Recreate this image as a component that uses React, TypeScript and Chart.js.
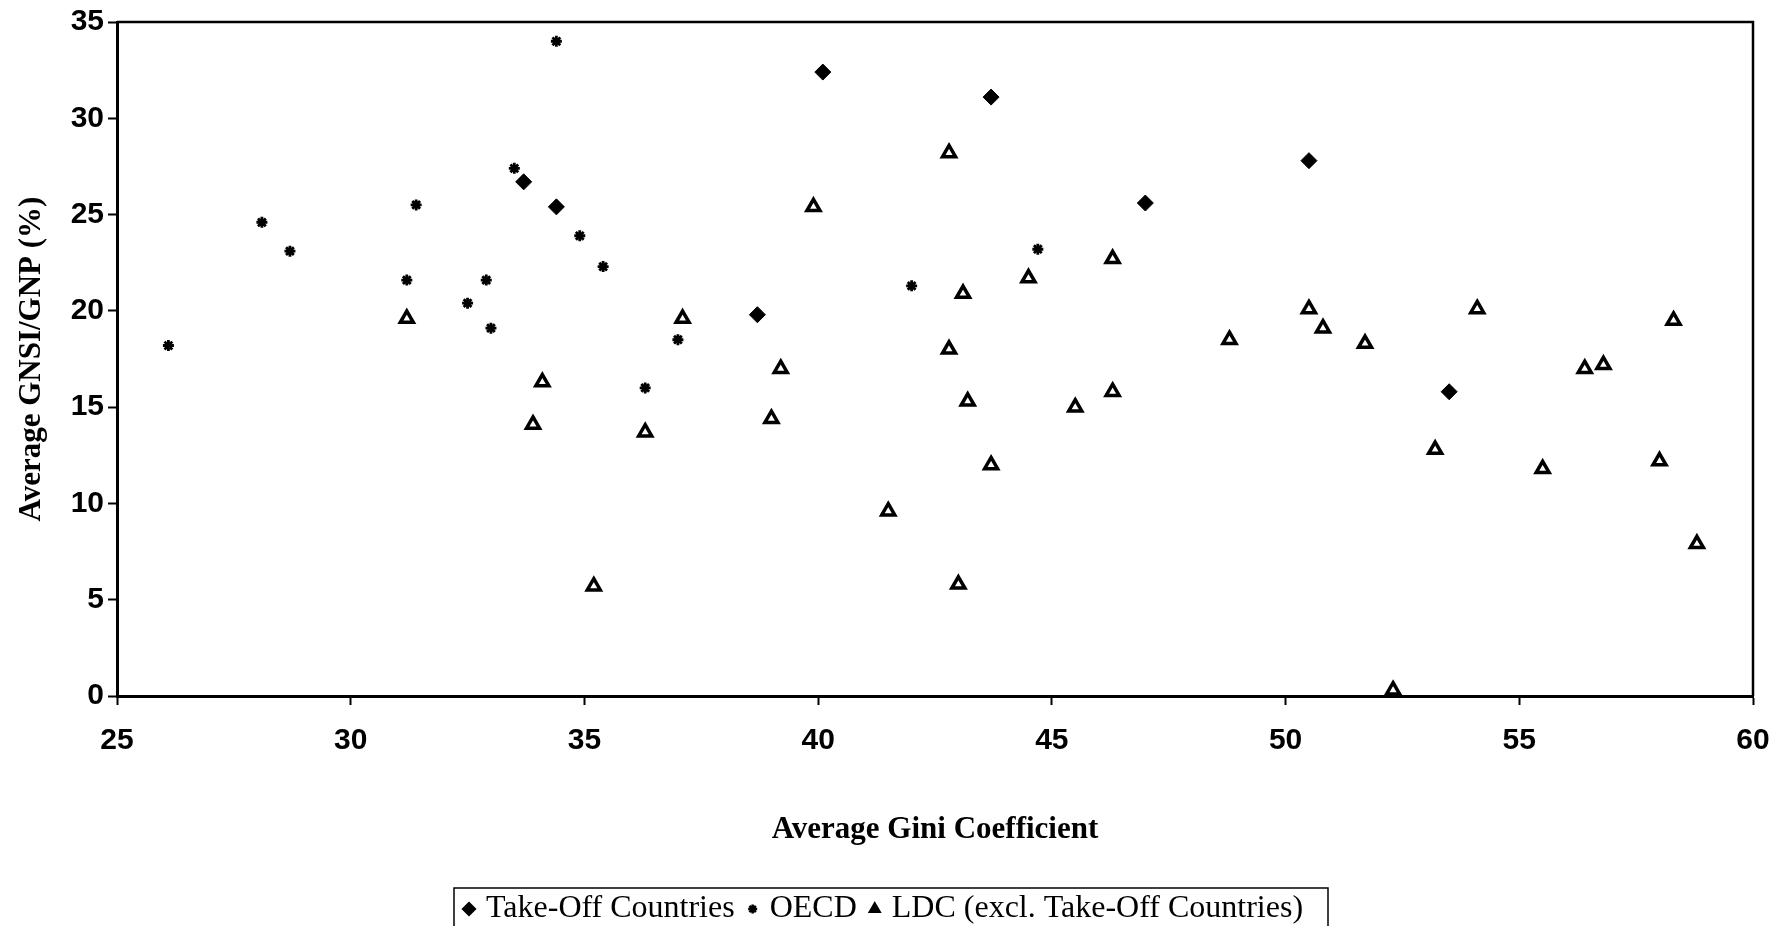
import React, { useEffect, useRef } from "react";
import { Chart, registerables } from "chart.js";
import { drawPoint } from "chart.js/helpers";

Chart.register(...registerables);

// ---- data ----
const seriesLabels = ["Take-Off Countries", "OECD", "LDC (excl. Take-Off Countries)"];
const xAxisTitle = "Average Gini Coefficient";
const yAxisTitle = "Average GNSI/GNP (%)";
const xMin = 25;
const xMax = 60;
const yMin = 0;
const yMax = 35;
const tickStep = 5;

const takeOffGini = [40.1, 43.7, 50.5, 33.7, 34.4, 47.0, 38.7, 53.5];
const takeOffGnsi = [32.4, 31.1, 27.8, 26.7, 25.4, 25.6, 19.8, 15.8];

const oecdGini = [26.1, 28.1, 28.7, 31.2, 31.4, 32.5, 32.9, 33.0, 33.5, 34.4, 34.9, 35.4, 36.3, 37.0, 42.0, 44.7];
const oecdGnsi = [18.2, 24.6, 23.1, 21.6, 25.5, 20.4, 21.6, 19.1, 27.4, 34.0, 23.9, 22.3, 16.0, 18.5, 21.3, 23.2];

const ldcGini = [
  31.2, 34.1, 33.9, 35.2, 36.3, 37.1, 39.2, 39.0, 39.9, 41.5, 42.8, 42.8, 43.1, 43.2, 43.7, 43.0, 44.5,
  45.5, 46.3, 46.3, 48.8, 50.5, 50.8, 51.7, 52.3, 53.2, 54.1, 55.5, 56.4, 56.8, 58.0, 58.3, 58.8,
];
const ldcGnsi = [
  19.6, 16.3, 14.1, 5.7, 13.7, 19.6, 17.0, 14.4, 25.4, 9.6, 28.2, 18.0, 20.9, 15.3, 12.0, 5.8, 21.7,
  15.0, 22.7, 15.8, 18.5, 20.1, 19.1, 18.3, 0.3, 12.8, 20.1, 11.8, 17.0, 17.2, 12.2, 19.5, 7.9,
];

const toPoints = (xs: number[], ys: number[]) => xs.map((x, i) => ({ x, y: ys[i] }));

const SANS = "'Liberation Sans', Arial, sans-serif";
const SERIF = "'Liberation Serif', 'Times New Roman', serif";

const framePlugin = {
  id: "frameBox",
  afterDatasetsDraw(chart: any) {
    const { ctx, chartArea: a } = chart;
    ctx.save();
    ctx.strokeStyle = "#000";
    ctx.lineWidth = 2.5;
    ctx.beginPath();
    ctx.moveTo(a.left, a.top);
    ctx.lineTo(a.right, a.top);
    ctx.lineTo(a.right, a.bottom);
    ctx.stroke();
    ctx.restore();
  },
};

const legendPlugin = {
  id: "boxedLegend",
  afterDraw(chart: any) {
    const ctx = chart.ctx;
    const boxLeft = 454;
    const boxRight = 1328;
    const boxTop = 888;
    const midY = 909;
    ctx.save();
    ctx.strokeStyle = "#000";
    ctx.lineWidth = 1.5;
    ctx.beginPath();
    ctx.moveTo(boxLeft, chart.height + 2);
    ctx.lineTo(boxLeft, boxTop);
    ctx.lineTo(boxRight, boxTop);
    ctx.lineTo(boxRight, chart.height + 2);
    ctx.stroke();

    ctx.font = `32px ${SERIF}`;
    ctx.textBaseline = "middle";
    ctx.textAlign = "left";
    let x = boxLeft + 15;
    chart.data.datasets.forEach((ds: any) => {
      ctx.fillStyle = ds.pointStyle === "triangle" ? "#000" : ds.backgroundColor;
      ctx.strokeStyle = ds.borderColor;
      ctx.lineWidth = ds.pointStyle === "star" ? 2.5 : 1.5;
      drawPoint(
        ctx,
        {
          pointStyle: ds.pointStyle,
          rotation: 0,
          radius: ds.pointStyle === "star" ? 4.5 : 6.5,
          borderWidth: ctx.lineWidth,
        } as any,
        x,
        midY
      );
      ctx.fillStyle = "#000";
      const tx = x + 17;
      ctx.fillText(ds.label, tx, midY);
      x = tx + ctx.measureText(ds.label).width + 18;
    });
    ctx.restore();
  },
};

export default function App() {
  const canvasRef = useRef<HTMLCanvasElement | null>(null);

  useEffect(() => {
    document.body.style.margin = "0";
    const canvas = canvasRef.current;
    if (!canvas) return;
    const chart = new Chart(canvas, {
      type: "scatter",
      data: {
        datasets: [
          {
            label: seriesLabels[0],
            data: toPoints(takeOffGini, takeOffGnsi),
            pointStyle: "rectRot",
            pointRadius: 8,
            backgroundColor: "#000",
            borderColor: "#000",
            borderWidth: 1,
            clip: false,
          },
          {
            label: seriesLabels[1],
            data: toPoints(oecdGini, oecdGnsi),
            pointStyle: "star",
            pointRadius: 5.5,
            backgroundColor: "#000",
            borderColor: "#000",
            borderWidth: 2.8,
            clip: false,
          },
          {
            label: seriesLabels[2],
            data: toPoints(ldcGini, ldcGnsi),
            pointStyle: "triangle",
            pointRadius: 7.5,
            backgroundColor: "#fff",
            borderColor: "#000",
            borderWidth: 3.5,
            clip: false,
          },
        ] as any,
      },
      options: {
        animation: false,
        responsive: false,
        events: [],
        layout: { padding: { top: 21, right: 37, left: 0, bottom: 0 } },
        plugins: {
          legend: { display: false },
          tooltip: { enabled: false },
          title: { display: false },
        },
        scales: {
          x: {
            type: "linear",
            min: xMin,
            max: xMax,
            afterFit: (s: any) => {
              s.height = 230;
            },
            ticks: {
              stepSize: tickStep,
              maxRotation: 0,
              autoSkip: false,
              color: "#000",
              padding: 18,
              font: { family: SANS, size: 30, weight: "bold" },
            },
            grid: {
              display: true,
              drawOnChartArea: false,
              drawTicks: true,
              tickLength: 9,
              tickColor: "#000",
              tickWidth: 2,
            },
            border: { display: true, color: "#000", width: 3 },
            title: {
              display: true,
              text: xAxisTitle,
              color: "#000",
              font: { family: SERIF, size: 31, weight: "bold" },
              padding: { top: 0, bottom: 77 },
            },
          },
          y: {
            type: "linear",
            min: yMin,
            max: yMax,
            afterFit: (s: any) => {
              s.width = 117;
            },
            ticks: {
              stepSize: tickStep,
              color: "#000",
              padding: 4,
              font: { family: SANS, size: 30, weight: "bold" },
            },
            grid: {
              display: true,
              drawOnChartArea: false,
              drawTicks: true,
              tickLength: 9,
              tickColor: "#000",
              tickWidth: 2,
            },
            border: { display: true, color: "#000", width: 3 },
            title: {
              display: true,
              text: yAxisTitle,
              color: "#000",
              font: { family: SERIF, size: 31, weight: "bold" },
              padding: { top: 13, bottom: 0 },
            },
          },
        },
      } as any,
      plugins: [framePlugin, legendPlugin],
    });
    return () => chart.destroy();
  }, []);

  return (
    <div style={{ position: "absolute", left: 0, top: 0, width: 1790, height: 926, background: "#fff" }}>
      <canvas ref={canvasRef} width={1790} height={926} style={{ display: "block" }} />
    </div>
  );
}
